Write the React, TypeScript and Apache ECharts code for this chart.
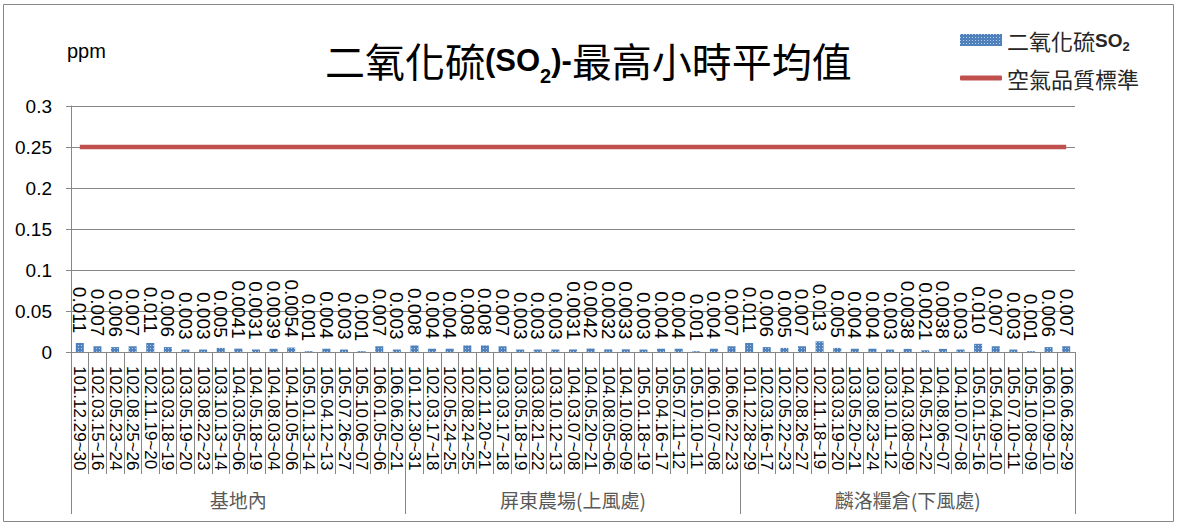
import React, { useEffect, useRef } from "react";
import * as echarts from "echarts";

const groups = ["基地內", "屏東農場(上風處)", "麟洛糧倉(下風處)"];

const datesBase = [
  "101.12.29~30", "102.03.15~16", "102.05.23~24", "102.08.25~26", "102.11.19~20",
  "103.03.18~19", "103.05.19~20", "103.08.22~23", "103.10.13~14", "104.03.05~06",
  "104.05.18~19", "104.08.03~04", "104.10.05~06", "105.01.13~14", "105.04.12~13",
  "105.07.26~27", "105.10.06~07", "106.01.05~06", "106.06.20~21",
];
const datesUpwind = [
  "101.12.30~31", "102.03.17~18", "102.05.24~25", "102.08.24~25", "102.11.20~21",
  "103.03.17~18", "103.05.18~19", "103.08.21~22", "103.10.12~13", "104.03.07~08",
  "104.05.20~21", "104.08.05~06", "104.10.08~09", "105.01.18~19", "105.04.16~17",
  "105.07.11~12", "105.10.10~11", "106.01.07~08", "106.06.22~23",
];
const datesDownwind = [
  "101.12.28~29", "102.03.16~17", "102.05.22~23", "102.08.26~27", "102.11.18~19",
  "103.03.19~20", "103.05.20~21", "103.08.23~24", "103.10.11~12", "104.03.08~09",
  "104.05.21~22", "104.08.06~07", "104.10.07~08", "105.01.15~16", "105.04.09~10",
  "105.07.10~11", "105.10.08~09", "106.01.09~10", "106.06.28~29",
];

const so2Base = [
  0.011, 0.007, 0.006, 0.007, 0.011, 0.006, 0.003, 0.003, 0.005, 0.0041,
  0.0031, 0.0039, 0.0054, 0.001, 0.004, 0.003, 0.001, 0.007, 0.003,
];
const so2Upwind = [
  0.008, 0.004, 0.004, 0.008, 0.008, 0.007, 0.003, 0.003, 0.003, 0.0031,
  0.0042, 0.0032, 0.0033, 0.003, 0.004, 0.004, 0.001, 0.004, 0.007,
];
const so2Downwind = [
  0.011, 0.006, 0.005, 0.007, 0.013, 0.005, 0.004, 0.004, 0.003, 0.0038,
  0.0021, 0.0038, 0.003, 0.010, 0.007, 0.003, 0.001, 0.006, 0.007,
];

const standardValue = 0.25;
const yTicks = [0, 0.05, 0.1, 0.15, 0.2, 0.25, 0.3];

const LATIN = "'Liberation Sans', Arial, 'Noto Sans CJK TC', sans-serif";
const CJK = "'Noto Sans CJK TC', 'Noto Sans CJK SC', sans-serif";
const GRAY = "#878787";

const legendRich = {
  c: { fontSize: 22, fontFamily: CJK, color: "#262626", lineHeight: 27 },
  b: { fontSize: 19, fontFamily: LATIN, color: "#262626", lineHeight: 27, fontWeight: "bold" },
  s: { fontSize: 13, fontFamily: LATIN, color: "#262626", lineHeight: 18, fontWeight: "bold", verticalAlign: "bottom" },
};

export default function App() {
  const ref = useRef<HTMLDivElement>(null);

  useEffect(() => {
    if (!ref.current) return;
    const chart = echarts.init(ref.current, null, { renderer: "svg" });

    const categories = [...datesBase, ...datesUpwind, ...datesDownwind];
    const values = [...so2Base, ...so2Upwind, ...so2Downwind];
    const standard = categories.map(() => standardValue);

    const fmtValue = (v: number) => {
      let s = String(v);
      const dec = s.split(".")[1] || "";
      if (dec.length < 3) s = Number(v).toFixed(3);
      return s;
    };

    const option: any = {
      animation: false,
      backgroundColor: "#ffffff",
      title: {
        text: "{c|二氧化硫}{b|(SO}{s|2}{b|)-}{c|最高小時平均值}",
        left: 320,
        top: 29,
        textStyle: {
          rich: {
            c: { fontSize: 40, fontFamily: CJK, color: "#000", lineHeight: 52, fontWeight: "normal" },
            b: { fontSize: 31, fontFamily: LATIN, color: "#000", lineHeight: 52, fontWeight: "bold" },
            s: { fontSize: 20, fontFamily: LATIN, color: "#000", lineHeight: 30, fontWeight: "bold", verticalAlign: "bottom" },
          },
        },
      },
      legend: [
        {
          orient: "vertical",
          left: 955,
          top: 24,
          itemWidth: 42,
          itemHeight: 12,
          icon: "rect",
          data: ["二氧化硫SO2"],
          formatter: () => "{c|二氧化硫}{b|SO}{s|2}",
          textStyle: { color: "#262626", rich: legendRich },
        },
        {
          orient: "vertical",
          left: 955,
          top: 62,
          itemWidth: 42,
          itemHeight: 5,
          icon: "roundRect",
          data: ["空氣品質標準"],
          formatter: (name: string) => "{c|" + name + "}",
          textStyle: { color: "#262626", rich: legendRich },
        },
      ],
      grid: { left: 71, right: 102, top: 106, bottom: 173, containLabel: false },
      xAxis: [
        {
          type: "category",
          data: categories,
          position: "bottom",
          boundaryGap: true,
          axisLine: { show: true, lineStyle: { color: GRAY, width: 1 } },
          axisTick: { show: true, interval: 0, length: 122, lineStyle: { color: GRAY, width: 1 } },
          axisLabel: {
            interval: 0,
            rotate: -90,
            margin: 14,
            fontSize: 17,
            fontFamily: LATIN,
            color: "#000",
          },
          splitLine: { show: false },
        },
        {
          type: "category",
          data: groups,
          position: "bottom",
          boundaryGap: true,
          axisLine: { show: false },
          axisTick: { show: true, interval: 0, length: 162, lineStyle: { color: GRAY, width: 1 } },
          axisLabel: {
            interval: 0,
            margin: 138,
            fontSize: 19,
            fontFamily: CJK,
            color: "#595959",
          },
          splitLine: { show: false },
        },
      ],
      yAxis: {
        type: "value",
        min: 0,
        max: 0.3,
        interval: 0.05,
        axisLine: { show: true, lineStyle: { color: GRAY, width: 1 } },
        axisTick: { show: true, length: 5, lineStyle: { color: GRAY } },
        splitLine: { show: true, lineStyle: { color: GRAY, width: 1 } },
        axisLabel: {
          margin: 19,
          fontSize: 19,
          fontFamily: LATIN,
          color: "#000",
          customValues: yTicks,
          formatter: (v: number) => String(Math.round(v * 100) / 100),
        },
      },
      series: [
        {
          name: "二氧化硫SO2",
          type: "bar",
          xAxisIndex: 0,
          data: values,
          barWidth: 8,
          itemStyle: {
            color: "#4f81bd",
            decal: {
              symbol: "rect",
              symbolSize: 1,
              color: "rgba(255,255,255,0.6)",
              dashArrayX: [1, 2],
              dashArrayY: [1, 2],
              rotation: 0,
            },
          },
          label: {
            show: true,
            position: "top",
            distance: 10,
            rotate: -90,
            align: "right",
            verticalAlign: "middle",
            fontSize: 19,
            fontFamily: LATIN,
            color: "#000",
            formatter: (p: any) => fmtValue(p.value),
          },
        },
        {
          name: "空氣品質標準",
          type: "line",
          xAxisIndex: 0,
          data: standard,
          symbol: "none",
          lineStyle: { color: "#c0504d", width: 4.5 },
          itemStyle: { color: "#c0504d" },
        },
      ],
      graphic: [
        {
          type: "rect",
          shape: { x: 3.5, y: 4.5, width: 1170, height: 517 },
          style: { fill: "none", stroke: GRAY, lineWidth: 1 },
          silent: true,
        },
        {
          type: "text",
          left: 67,
          top: 41,
          style: { text: "ppm", fontSize: 20, fontFamily: LATIN, fill: "#000" },
        },
      ],
    };

    chart.setOption(option);
    return () => chart.dispose();
  }, []);

  return (
    <div
      ref={ref}
      style={{ position: "absolute", left: 0, top: 0, width: 1177, height: 525 }}
    />
  );
}
